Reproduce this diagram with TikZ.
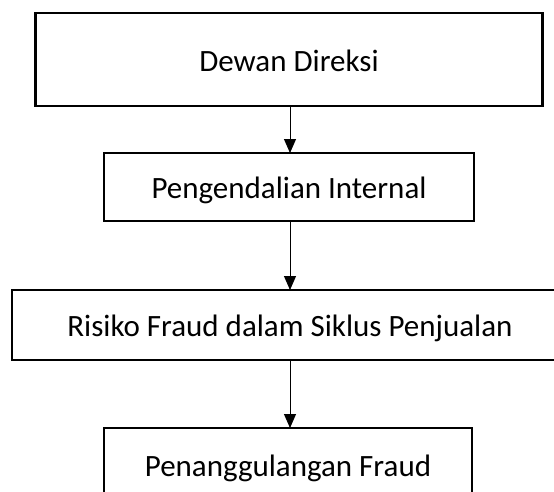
\documentclass[tikz,border=0pt]{standalone}
\usepackage{fontspec}
\setmainfont{Carlito}
\usetikzlibrary{arrows.meta}
\tikzset{
  box/.style={draw=black, line width=2.8pt, fill=white, inner sep=0pt, outer sep=0pt,
    font=\fontsize{31}{37}\selectfont, text height=29pt, text depth=6pt},
  arr/.style={draw=black, line width=1pt, -{Triangle[width=12pt,length=14pt]}},
}
\begin{document}
\begin{tikzpicture}[x=1pt,y=-1pt]
\useasboundingbox (0,0) rectangle (554,491);
\clip (0,0) rectangle (554,491);
\node[box, minimum width=507pt, minimum height=93pt] (d1) at (289,59.5) {Dewan Direksi};
\node[box, minimum width=370pt, minimum height=68pt] (d2) at (289,187) {Pengendalian Internal};
\node[box, minimum width=556pt, minimum height=70pt] (d3) at (290,325) {Risiko Fraud dalam Siklus Penjualan};
\node[box, minimum width=368pt, minimum height=74pt] (d4) at (288,465) {Penanggulangan Fraud};
\draw[arr] (d1.south -| 290,0) -- (d2.north -| 290,0);
\draw[arr] (d2.south -| 290,0) -- (d3.north -| 290,0);
\draw[arr] (d3.south -| 290,0) -- (d4.north -| 290,0);
\end{tikzpicture}
\end{document}
